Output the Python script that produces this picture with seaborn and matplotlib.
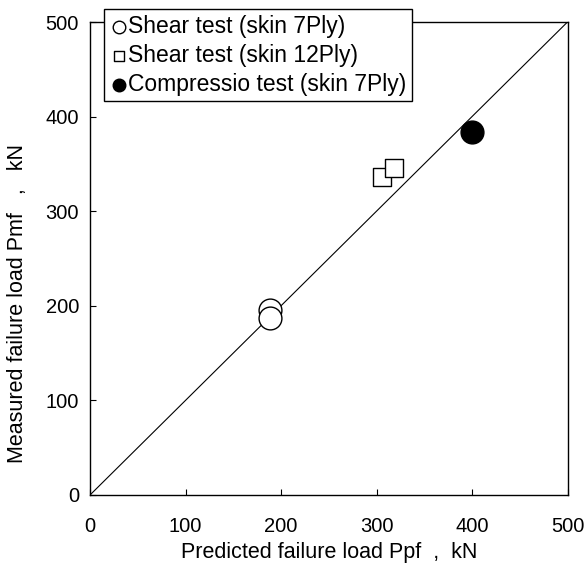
import matplotlib
matplotlib.use("Agg")
import matplotlib.pyplot as plt
import seaborn as sns
import pandas as pd

# ---- data ----
shear7_pred = [188, 189]
shear7_meas = [196, 187]
shear12_pred = [306, 318]
shear12_meas = [336, 346]
comp7_pred = [400]
comp7_meas = [384]
line_vals = [0, 500]
ticks = [0, 100, 200, 300, 400, 500]
labels = ["Shear test (skin 7Ply)", "Shear test (skin 12Ply)", "Compressio test (skin 7Ply)"]

sns.set_style("white")
plt.rcParams['font.family'] = ['Liberation Sans', 'DejaVu Sans']
plt.rcParams['text.color'] = 'black'
plt.rcParams['axes.labelcolor'] = 'black'
plt.rcParams['xtick.color'] = 'black'
plt.rcParams['ytick.color'] = 'black'

fig = plt.figure(figsize=(5.87, 5.72), dpi=100)
ax = fig.add_axes([90/587, 77/572, 477.5/587, 473/572])

sns.lineplot(x=line_vals, y=line_vals, ax=ax, color="black", linewidth=0.8, zorder=1)

sns.scatterplot(x=shear7_pred, y=shear7_meas, ax=ax, marker="o", s=270,
                facecolor="white", edgecolor="black", linewidth=1.0, label=labels[0], zorder=3)
sns.scatterplot(x=shear12_pred, y=shear12_meas, ax=ax, marker="s", s=185,
                facecolor="white", edgecolor="black", linewidth=1.0, label=labels[1], zorder=3)
sns.scatterplot(x=comp7_pred, y=comp7_meas, ax=ax, marker="o", s=270,
                facecolor="black", edgecolor="black", linewidth=1.0, label=labels[2], zorder=3)

ax.set_xlim(0, 500)
ax.set_ylim(0, 500)
ax.set_xticks(ticks)
ax.set_yticks(ticks)
ax.tick_params(axis="x", direction="in", length=4, width=0.8, pad=16, labelsize=14.5, bottom=True, top=False)
ax.tick_params(axis="y", direction="in", length=4, width=0.8, pad=8, labelsize=14.5, left=True, right=False)
for sp in ax.spines.values():
    sp.set_color("black")
    sp.set_linewidth(1.0)

ax.set_xlabel("Predicted failure load Ppf  ,  kN", fontsize=15.5)
ax.set_ylabel("Measured failure load Pmf   ,   kN", fontsize=15.5)
ax.xaxis.set_label_coords(0.5, -0.1)
ax.yaxis.set_label_coords(-0.13, 0.405)

leg = ax.legend(loc="upper left", bbox_to_anchor=(104/587, 1 - 9/572), bbox_transform=fig.transFigure,
                frameon=True, fancybox=False, framealpha=1, edgecolor="black", fontsize=16.5,
                markerscale=0.55, handletextpad=0.0, handlelength=0.8, borderpad=0.25,
                labelspacing=0.26, borderaxespad=0, handleheight=0.7)
leg.get_frame().set_linewidth(1.0)
leg.set_zorder(10)

fig.savefig("out.png", dpi=100, facecolor="white")
